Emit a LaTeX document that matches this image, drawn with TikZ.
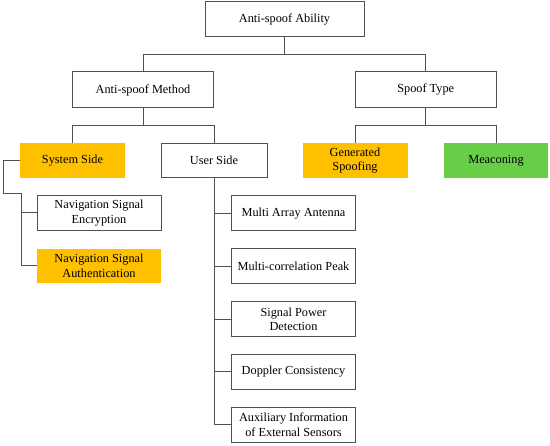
\documentclass[tikz,border=0pt]{standalone}
\usepackage{fontspec}
\setmainfont{Liberation Serif}
\usepackage{tikz}
\usepackage{xcolor}
\definecolor{orange}{RGB}{255,192,0}
\definecolor{green}{RGB}{104,206,72}
\definecolor{edge}{RGB}{80,80,80}

\begin{document}
\begin{tikzpicture}[x=1pt,y=-1pt,
    box/.style={draw=edge,line width=1pt,fill=white,align=center,inner sep=0pt,
        font=\fontsize{12.3}{14.6}\selectfont},
    fillbox/.style={box,draw=none},
    link/.style={draw=edge,line width=1pt}]
                \useasboundingbox (0,0) rectangle (550,446);

                % Top
                \node[box,minimum width=159pt,minimum height=35pt] (ability) at (284.5,19.5) {Anti-spoof Ability};

                % Second level
                \node[box,minimum width=141pt,minimum height=36pt] (method) at (143,90) {Anti-spoof Method};
                \node[box,minimum width=141pt,minimum height=36pt] (type) at (425.7,90) {Spoof Type};

                % Third level
                \node[fillbox,fill=orange,minimum width=105pt,minimum height=34.5pt] (system) at (72.5,160.5) {System Side};
                \node[box,minimum width=106pt,minimum height=34.5pt] (user) at (214,160.5) {User Side};
                \node[fillbox,fill=orange,minimum width=105pt,minimum height=34.5pt] (generated) at (355,160.5) {Generated\\Spoofing};
                \node[fillbox,fill=green,minimum width=104pt,minimum height=34.5pt] (meaconing) at (496,160.5) {Meaconing};

                % System side
                \node[box,minimum width=124pt,minimum height=35pt] (encryption) at (99,213) {Navigation Signal\\Encryption};
                \node[fillbox,fill=orange,minimum width=124pt,minimum height=34.5pt] (authentication) at (99,266) {Navigation Signal\\Authentication};

                % User side
                \foreach \name/\y/\txt in {antenna/213.3/Multi Array Antenna,
                                          peak/266.3/Multi-correlation Peak,
                                          power/319.2/Signal Power\\Detection,
                                          doppler/372/Doppler Consistency,
                                          sensors/425/Auxiliary Information\\of External Sensors}
                    \node[box,minimum width=123.6pt,minimum height=35pt] (\name) at (293.5,\y) {\txt};

                % Links
                \draw[link] (ability.south) -- ++(0,17) -| (method.north);
                \draw[link] (ability.south) -- ++(0,17) -| (type.north);
                \draw[link] (method.south) -- ++(0,17.5) -| (system.north);
                \draw[link] (method.south) -- ++(0,17.5) -| (user.north);
                \draw[link] (type.south) -- ++(0,17.5) -| (generated.north);
                \draw[link] (type.south) -- ++(0,17.5) -| (meaconing.north);

                \coordinate (jog) at (21.7,193.3);
                \draw[link] (system.west) -- ++(-16,0) |- (jog) |- (authentication.west);
                \draw[link] (jog) |- (encryption.west);

                \foreach \name in {antenna,peak,power,doppler,sensors}
                    \draw[link] (user.south) |- (\name.west);
            \end{tikzpicture}
\end{document}
